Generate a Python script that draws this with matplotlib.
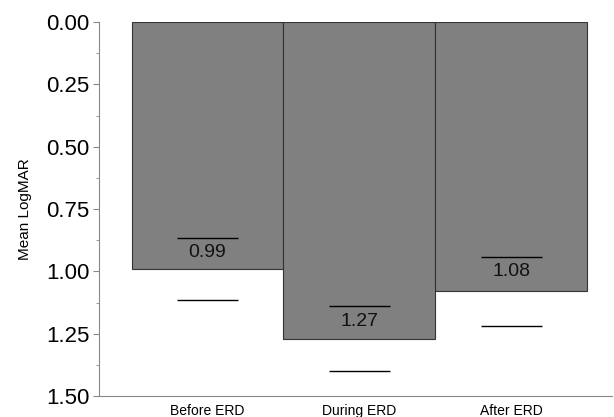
import matplotlib.pyplot as plt
import numpy as np
from matplotlib.ticker import MultipleLocator

plt.rcParams["font.family"] = ["Liberation Sans", "DejaVu Sans"]

categories = ["Before ERD", "During ERD", "After ERD"]
means = [0.99, 1.27, 1.08]
errors = [0.125, 0.13, 0.14]

fig = plt.figure(figsize=(6.14, 4.17), dpi=100)
ax = fig.add_axes([0.161, 0.05, 0.835, 0.897])

x = np.arange(len(categories))
ax.bar(x, means, width=1.0, color="#808080", edgecolor="#333333", linewidth=0.8, zorder=2)

caps_lo = [m - e for m, e in zip(means, errors)]
caps_hi = [m + e for m, e in zip(means, errors)]
ax.hlines(caps_lo, x - 0.2, x + 0.2, color="black", linewidth=1.0, zorder=3)
ax.hlines(caps_hi, x - 0.2, x + 0.2, color="black", linewidth=1.0, zorder=3)

for xi, m, lo in zip(x, means, caps_lo):
    ax.text(xi, lo + 0.025, f"{m:.2f}", ha="center", va="top", fontsize=14, color="#111111", zorder=4)

ax.set_xlim(-0.715, 2.66)
ax.set_ylim(1.5, 0.0)
ax.yaxis.set_major_locator(MultipleLocator(0.25))
ax.yaxis.set_minor_locator(MultipleLocator(0.125))
ax.yaxis.set_major_formatter(plt.FuncFormatter(lambda v, p: f"{v:.2f}"))

ax.set_xticks(x)
ax.set_xticklabels(categories, fontsize=10)
ax.tick_params(axis="x", length=0, pad=6)
ax.tick_params(axis="y", which="major", length=4, color="#888888", labelsize=16, pad=3)
ax.tick_params(axis="y", which="minor", length=2, color="#888888")
ax.set_ylabel("Mean LogMAR", fontsize=11, labelpad=10)

for side in ["top", "right"]:
    ax.spines[side].set_visible(False)
for side in ["left", "bottom"]:
    ax.spines[side].set_color("#888888")
    ax.spines[side].set_linewidth(0.8)

fig.savefig("out.png", dpi=100)
